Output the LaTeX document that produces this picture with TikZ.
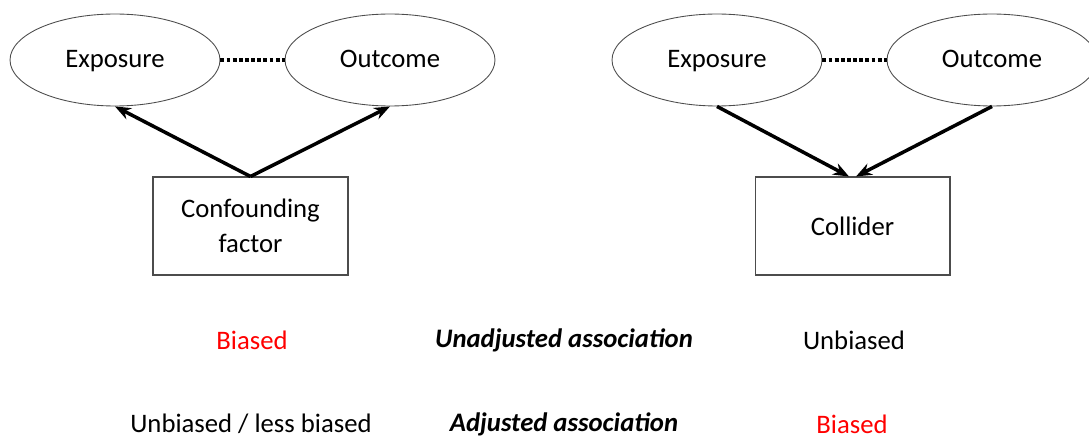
\documentclass[tikz,border=0pt]{standalone}
\usepackage{fontspec}
\setmainfont{Carlito}
\usetikzlibrary{arrows.meta,shapes.geometric}

\begin{document}
\begin{tikzpicture}[
    x=0.02cm, y=-0.02cm,
    every node/.style={text=black, font=\fontsize{15.2}{18}\selectfont},
    var/.style={ellipse, draw=black!70, line width=0.5pt, minimum width=4.2cm, minimum height=1.84cm, inner sep=0pt, text height=2.2ex, text depth=0.3ex},
    factor/.style={rectangle, draw=black!70, line width=0.6pt, minimum width=3.9cm, minimum height=1.96cm, align=center, inner sep=0pt},
    link/.style={line width=2.2pt, dash pattern=on 2.2pt off 1.3pt},
    cause/.style={line width=2pt, -{Stealth[length=9pt, width=7pt]}}
]

    \useasboundingbox (0,0) rectangle (1089,439);

    % ==========================
    % LEFT: Confounding
    % ==========================
    \node[var] (E1) at (115,60) {Exposure};
    \node[var] (O1) at (390,60) {Outcome};
    \node[factor] (C1) at (250.5,226) {Confounding\\[2pt]factor};

    \draw[link] (E1.east) -- (O1.west);
    \draw[cause] (C1.north) -- (E1.south);
    \draw[cause] (C1.north) -- (O1.south);

    % ==========================
    % RIGHT: Collider
    % ==========================
    \node[var] (E2) at (717,60) {Exposure};
    \node[var] (O2) at (992,60) {Outcome};
    \node[factor] (C2) at (852.5,226) {Collider};

    \draw[link] (E2.east) -- (O2.west);
    \draw[cause] (E2.south) -- ([xshift=-2pt]C2.north);
    \draw[cause] (O2.south) -- ([xshift=2pt]C2.north);

    % ==========================
    % Associations
    % ==========================
    \node[text=red] (B1) at (252,340) {Biased};
    \node[font=\fontsize{15.2}{18}\selectfont\bfseries\itshape] (U) at (564,340) {Unadjusted association};
    \node (U2) at (854,340) {Unbiased};

    \node (L1) at (251,424) {Unbiased / less biased};
    \node[font=\fontsize{15.2}{18}\selectfont\bfseries\itshape] (A) at (564,424) {Adjusted association};
    \node[text=red] (B2) at (852,424) {Biased};

\end{tikzpicture}
\end{document}
